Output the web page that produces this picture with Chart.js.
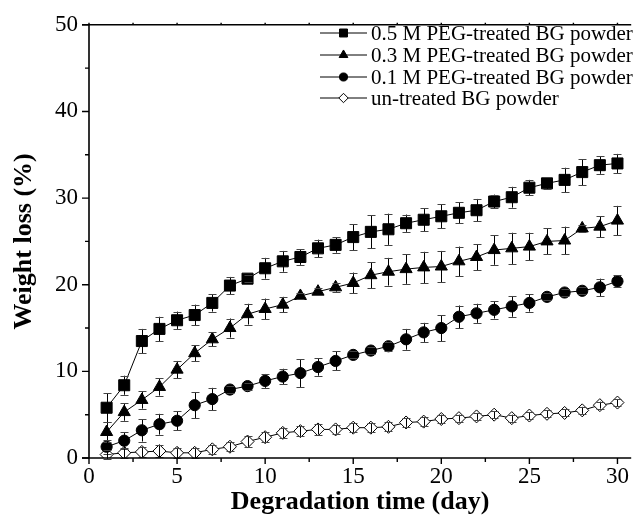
<!DOCTYPE html>
<html><head><meta charset="utf-8">
<script src="https://cdn.jsdelivr.net/npm/chart.js@4/dist/chart.umd.min.js"></script>
<style>html,body{margin:0;padding:0;background:#fff}#wrap{width:640px;height:522px;position:relative}</style>
</head><body><div id="wrap"><canvas id="c" width="640" height="522"></canvas></div>
<script>
const days = [1,2,3,4,5,6,7,8,9,10,11,12,13,14,15,16,17,18,19,20,21,22,23,24,25,26,27,28,29,30];
const seriesLabels = ['0.5 M PEG-treated BG powder','0.3 M PEG-treated BG powder','0.1 M PEG-treated BG powder','un-treated BG powder'];
const peg05 = [5.8,8.4,13.5,14.9,15.9,16.5,17.9,19.9,20.7,21.9,22.7,23.2,24.2,24.6,25.5,26.1,26.4,27.1,27.5,27.9,28.3,28.6,29.6,30.1,31.2,31.7,32.1,33.0,33.8,34.0];
const peg05Err = [1.7,1.1,1.4,1.4,1.0,1.2,1.0,1.0,0.4,1.2,1.2,0.9,1.0,0.9,1.5,1.9,1.8,1.0,1.3,1.4,1.2,1.3,0.8,1.2,0.9,0.7,1.4,1.5,1.0,1.1];
const peg03 = [3.0,5.3,6.7,8.2,10.2,12.1,13.7,15.0,16.6,17.2,17.7,18.7,19.2,19.7,20.2,21.1,21.5,21.8,22.0,22.1,22.7,23.2,24.0,24.2,24.4,25.0,25.1,26.5,26.7,27.4];
const peg03Err = [1.1,1.0,1.0,1.0,1.0,0.9,0.8,1.1,1.2,1.2,0.9,0.4,0.4,0.5,1.2,1.5,1.6,1.7,1.8,1.8,1.7,1.5,1.7,1.8,1.6,1.5,1.6,0.4,1.2,1.7];
const peg01 = [1.3,2.0,3.2,3.9,4.3,6.1,6.8,7.9,8.3,8.9,9.4,9.8,10.5,11.2,11.9,12.4,12.9,13.7,14.5,15.0,16.3,16.7,17.1,17.5,17.9,18.6,19.1,19.3,19.7,20.4];
const peg01Err = [0.8,1.0,1.3,1.2,1.1,1.5,1.3,0.4,0.4,0.8,0.9,1.6,1.0,1.1,0.4,0.4,0.5,1.2,1.1,1.5,1.3,1.1,1.0,1.2,1.0,0.4,0.4,0.4,1.0,0.7];
const untreated = [0.4,0.6,0.7,0.8,0.6,0.6,1.0,1.3,1.9,2.4,2.9,3.1,3.3,3.3,3.5,3.5,3.6,4.1,4.2,4.5,4.6,4.8,5.0,4.6,4.9,5.1,5.2,5.5,6.1,6.4];
const untreatedErr = [0.5,0.6,0.6,0.7,0.6,0.6,0.5,0.5,0.6,0.6,0.6,0.6,0.6,0.5,0.5,0.5,0.5,0.5,0.5,0.5,0.4,0.4,0.4,0.4,0.4,0.4,0.4,0.4,0.4,0.4];
const xTicks = [0,5,10,15,20,25,30];
const xMinorTicks = [2.5,7.5,12.5,17.5,22.5,27.5];
const yTicks = [0,10,20,30,40,50];
const yMinorTicks = [5,15,25,35,45];
const xTitle = 'Degradation time (day)';
const yTitle = 'Weight loss (%)';

const SERIF = '"Liberation Serif","Times New Roman",serif';
const toPts = vals => days.map((d,i)=>({x:d,y:vals[i]}));
const errs = [peg05Err, peg03Err, peg01Err, untreatedErr];

function ds(label, vals, style, radius, fill){
  return {label, data: toPts(vals), borderColor:'#000', borderWidth:1, backgroundColor:fill,
    pointStyle:style, pointRadius:radius, pointBackgroundColor:fill, pointBorderColor:'#000',
    pointBorderWidth:1, tension:0, fill:false};
}

const decor = {
  id:'decor',
  afterDatasetsDraw(chart){
    const ctx = chart.ctx, xs = chart.scales.x, ys = chart.scales.y;
    ctx.save();
    ctx.lineWidth = 1;
    chart.data.datasets.forEach((d,di)=>{
      const e = errs[di];
      d.data.forEach((p,i)=>{
        const px = Math.round(xs.getPixelForValue(p.x))+0.5;
        const t = ys.getPixelForValue(p.y+e[i]), b = ys.getPixelForValue(p.y-e[i]);
        ctx.strokeStyle = '#000';
        ctx.beginPath(); ctx.moveTo(px,t); ctx.lineTo(px,b); ctx.stroke();
        ctx.strokeStyle = '#444';
        ctx.beginPath();
        ctx.moveTo(px-4,Math.round(t)+0.5); ctx.lineTo(px+4,Math.round(t)+0.5);
        ctx.moveTo(px-4,Math.round(b)+0.5); ctx.lineTo(px+4,Math.round(b)+0.5);
        ctx.stroke();
      });
    });
    ctx.restore();
  },
  afterDraw(chart){
    const ctx = chart.ctx, xs = chart.scales.x, ys = chart.scales.y, a = chart.chartArea;
    ctx.save();
    ctx.strokeStyle = '#000'; ctx.lineWidth = 1.6;
    ctx.beginPath();
    ctx.moveTo(a.left, a.top); ctx.lineTo(a.left, a.bottom);
    ctx.moveTo(a.left-7, a.bottom); ctx.lineTo(a.right, a.bottom);
    ctx.moveTo(a.left-7, a.top); ctx.lineTo(a.right, a.top);
    ctx.stroke();
    ctx.lineWidth = 1.4;
    ctx.beginPath();
    xTicks.forEach(v=>{const x=xs.getPixelForValue(v); ctx.moveTo(x,a.bottom); ctx.lineTo(x,a.bottom+6); ctx.moveTo(x,a.top); ctx.lineTo(x,a.top-2);});
    xMinorTicks.forEach(v=>{const x=xs.getPixelForValue(v); ctx.moveTo(x,a.bottom); ctx.lineTo(x,a.bottom+4); ctx.moveTo(x,a.top); ctx.lineTo(x,a.top-2);});
    yTicks.forEach(v=>{const y=ys.getPixelForValue(v); ctx.moveTo(a.left,y); ctx.lineTo(a.left-7,y);});
    yMinorTicks.forEach(v=>{const y=ys.getPixelForValue(v); ctx.moveTo(a.left,y); ctx.lineTo(a.left-4,y);});
    ctx.stroke();
    // legend
    const rows = [33,55,77,98];
    ctx.font = '21px '+SERIF; ctx.fillStyle='#000'; ctx.textBaseline='middle'; ctx.textAlign='left';
    chart.data.datasets.forEach((d,i)=>{
      const y = rows[i];
      ctx.lineWidth = 1; ctx.strokeStyle='#000';
      ctx.beginPath(); ctx.moveTo(320,y); ctx.lineTo(367,y); ctx.stroke();
      ctx.fillStyle = d.pointBackgroundColor;
      Chart.helpers.drawPoint(ctx,{pointStyle:d.pointStyle, radius:d.pointRadius*0.72, rotation:0, borderWidth:1}, 343.5, y);
      ctx.fillStyle='#000';
      ctx.fillText(d.label, 371, y+1);
    });
    ctx.restore();
  }
};

new Chart(document.getElementById('c'), {
  type:'line',
  data:{datasets:[
    ds(seriesLabels[0], peg05, 'rect', 7.8, '#000'),
    ds(seriesLabels[1], peg03, 'triangle', 7, '#000'),
    ds(seriesLabels[2], peg01, 'circle', 5.6, '#000'),
    ds(seriesLabels[3], untreated, 'rectRot', 6.5, '#fff')
  ]},
  options:{
    responsive:false, animation:false,
    layout:{padding:{top:18,right:0,left:0,bottom:0}},
    plugins:{legend:{display:false}, tooltip:{enabled:false}},
    scales:{
      x:{type:'linear', min:0, max:30.78,
        afterBuildTicks:s=>{s.ticks = xTicks.map(v=>({value:v}));},
        afterFit:s=>{s.height = 64;},
        grid:{display:false, drawTicks:false}, border:{display:false},
        ticks:{font:{family:SERIF,size:23}, color:'#000', padding:5, maxRotation:0, autoSkip:false},
        title:{display:true, text:xTitle, color:'#000', font:{family:SERIF,size:26,weight:'bold'}, padding:{top:0,bottom:4}}
      },
      y:{type:'linear', min:0, max:50,
        afterBuildTicks:s=>{s.ticks = yTicks.map(v=>({value:v}));},
        afterFit:s=>{s.width = 89;},
        grid:{display:false, drawTicks:false}, border:{display:false},
        ticks:{font:{family:SERIF,size:23}, color:'#000', padding:11},
        title:{display:true, text:yTitle, color:'#000', font:{family:SERIF,size:26,weight:'bold'}, padding:{top:9,bottom:0}}
      }
    }
  },
  plugins:[decor]
});
</script></body></html>
